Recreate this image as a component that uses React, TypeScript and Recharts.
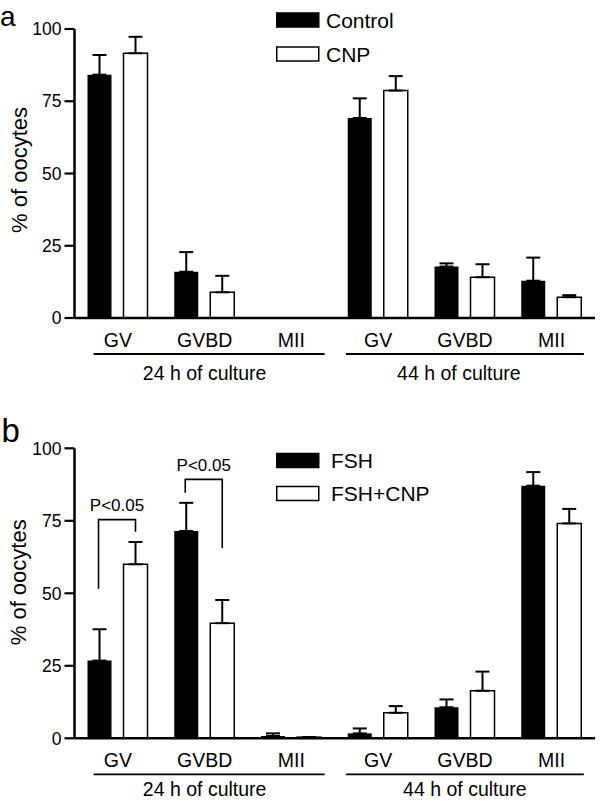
import React from 'react';
import { BarChart, Bar, XAxis, YAxis, ErrorBar, Legend, LabelList } from 'recharts';

// ---------- data ----------
const categoryIds = ['GV-24', 'GVBD-24', 'MII-24', 'GV-44', 'GVBD-44', 'MII-44'];
const stageLabels = ['GV', 'GVBD', 'MII', 'GV', 'GVBD', 'MII'];
const groupLabels = ['24 h of culture', '44 h of culture'];
const groupMiddleIndex = [1, 4];
const yTicks = [0, 25, 50, 75, 100];

// panel a
const seriesNamesA = ['Control', 'CNP'];
const controlMean = [84.2, 16.0, 0, 69.2, 17.8, 12.9];
const controlSem = [6.8, 6.8, 0, 6.8, 1.1, 8.0];
const cnpMean = [91.6, 8.9, 0, 78.7, 14.1, 7.2];
const cnpSem = [5.7, 5.7, 0, 5.0, 4.5, 0.7];

// panel b
const seriesNamesB = ['FSH', 'FSH+CNP'];
const fshMean = [26.8, 71.5, 0.8, 1.7, 10.7, 87.1];
const fshSem = [10.8, 9.7, 0.9, 1.7, 2.7, 4.7];
const fshCnpMean = [60.0, 39.7, 0.4, 8.8, 16.4, 74.1];
const fshCnpSem = [7.7, 8.0, 0, 2.3, 6.6, 5.0];

// significance brackets (panel b)
const sigText = ['P<0.05', 'P<0.05', null, null, null, null];
const sigTop = [75.4, 89.3, 0, 0, 0, 0];
const sigLeftEnd = [51.6, 84.7, 0, 0, 0, 0];
const sigRightEnd = [71.2, 65.5, 0, 0, 0, 0];

const dataA = categoryIds.map((id, i) => ({
  id,
  s1: controlMean[i],
  s1Err: [0, controlSem[i]],
  s2: cnpMean[i],
  s2Err: [0, cnpSem[i]],
}));
const dataB = categoryIds.map((id, i) => ({
  id,
  s1: fshMean[i],
  s1Err: [0, fshSem[i]],
  s2: fshCnpMean[i],
  s2Err: [0, fshCnpSem[i]],
}));

// ---------- style ----------
const FONT = '"Liberation Sans", Arial, Helvetica, sans-serif';
const BAR_SIZE = 24;
const BAR_GAP = 12;
const FILLS = ['#000000', '#ffffff'];
const groupLineSpan = [
  [-111, 120],
  [-119, 119],
];

function makeXTick(labelShift: number[], groupLabelDy: number) {
  return (props: any) => {
    const { x, y, payload } = props;
    const idx = payload && payload.index != null ? payload.index : props.index;
    const g = groupMiddleIndex.indexOf(idx);
    return (
      <g>
        <text x={x} y={y + 29} textAnchor="middle" fontSize={19.5} fill="#000" fontFamily={FONT}>
          {stageLabels[idx]}
        </text>
        {g >= 0 && (
          <g>
            <line
              x1={x + groupLineSpan[g][0]}
              x2={x + groupLineSpan[g][1]}
              y1={y + 36}
              y2={y + 36}
              stroke="#000"
              strokeWidth={1.8}
            />
            <text
              x={x + labelShift[g]}
              y={y + groupLabelDy}
              textAnchor="middle"
              fontSize={19.5}
              fill="#000"
              fontFamily={FONT}
            >
              {groupLabels[g]}
            </text>
          </g>
        )}
      </g>
    );
  };
}

function makeYTitle(shift: number) {
  return (props: any) => {
    const vb = props.viewBox || {};
    const cx = 26.5;
    const cy = vb.y + vb.height / 2 + shift;
    return (
      <text
        x={cx}
        y={cy}
        transform={`rotate(-90 ${cx} ${cy})`}
        textAnchor="middle"
        fontSize={22}
        fill="#000"
        fontFamily={FONT}
      >
        % of oocytes
      </text>
    );
  };
}

function makeLegend(names: string[], rows: number[], textX: number) {
  return () => (
    <svg width={330} height={120} style={{ display: 'block', overflow: 'visible' }}>
      {names.map((n, i) => (
        <g key={n}>
          <rect x={0.75} y={rows[i]} width={42} height={14} fill={FILLS[i]} stroke="#000" strokeWidth={1.5} />
          <text x={textX} y={rows[i] + 14.5} fontSize={21} fill="#000" fontFamily={FONT}>
            {n}
          </text>
        </g>
      ))}
    </svg>
  );
}

const renderBracket = (props: any) => {
  const idx = props.index;
  if (idx == null || sigText[idx] == null) return null;
  const vb = props.viewBox && props.viewBox.width != null ? props.viewBox : props;
  const { x, y, width, height } = vb;
  const value = fshMean[idx];
  if (!value || !height) return null;
  const base = y + height;
  const ppu = height / value;
  const Y = (v: number) => base - v * ppu;
  const cx1 = x + width / 2 - 1;
  const cx2 = x + width / 2 + width + BAR_GAP;
  const top = Y(sigTop[idx]);
  return (
    <g>
      <polyline
        points={`${cx1},${Y(sigLeftEnd[idx])} ${cx1},${top} ${cx2},${top} ${cx2},${Y(sigRightEnd[idx])}`}
        fill="none"
        stroke="#000"
        strokeWidth={1.6}
      />
      <text x={(cx1 + cx2) / 2} y={top - 8.5} textAnchor="middle" fontSize={17} fill="#000" fontFamily={FONT}>
        {sigText[idx]}
      </text>
    </g>
  );
};

function Panel(props: {
  data: any[];
  names: string[];
  height: number;
  top: number;
  xAxisHeight: number;
  legendRows: number[];
  legendTextX: number;
  titleShift: number;
  groupLabelShift: number[];
  groupLabelDy: number;
  brackets?: boolean;
}) {
  const {
    data,
    names,
    height,
    top,
    xAxisHeight,
    legendRows,
    legendTextX,
    titleShift,
    groupLabelShift,
    groupLabelDy,
    brackets,
  } = props;
  return (
    <BarChart
      width={600}
      height={height}
      data={data}
      margin={{ top, right: 5, bottom: 0, left: 0 }}
      barSize={BAR_SIZE}
      barGap={BAR_GAP}
    >
      <XAxis
        dataKey="id"
        interval={0}
        height={xAxisHeight}
        tickLine={false}
        tickSize={0}
        tickMargin={0}
        axisLine={{ stroke: '#000', strokeWidth: 2.5 }}
        tick={makeXTick(groupLabelShift, groupLabelDy)}
      />
      <YAxis
        type="number"
        domain={[0, 100]}
        ticks={yTicks}
        width={74.5}
        tickSize={10}
        tickMargin={3}
        axisLine={{ stroke: '#000', strokeWidth: 2.5 }}
        tickLine={{ stroke: '#000', strokeWidth: 2.2 }}
        tick={{ fontSize: 17.5, fill: '#000', fontFamily: FONT }}
        label={makeYTitle(titleShift)}
      />
      <Legend
        verticalAlign="middle"
        align="center"
        layout="horizontal"
        wrapperStyle={{ left: 276, top: 0, width: 330, height: 120 }}
        content={makeLegend(names, legendRows, legendTextX)}
      />
      <Bar dataKey="s1" name={names[0]} fill={FILLS[0]} isAnimationActive={false}>
        <ErrorBar dataKey="s1Err" direction="y" width={7} stroke="#000" strokeWidth={2} />
        {brackets && <LabelList dataKey="s1" content={renderBracket} />}
      </Bar>
      <Bar dataKey="s2" name={names[1]} fill={FILLS[1]} stroke="#000" strokeWidth={1.5} isAnimationActive={false}>
        <ErrorBar dataKey="s2Err" direction="y" width={7} stroke="#000" strokeWidth={2} />
      </Bar>
    </BarChart>
  );
}

export default function App() {
  return (
    <div
      style={{
        position: 'absolute',
        left: 0,
        top: 0,
        width: 600,
        height: 801,
        background: '#fff',
        fontFamily: FONT,
        overflow: 'hidden',
      }}
    >
      <div style={{ position: 'relative', width: 600, height: 400 }}>
        <Panel
          data={dataA}
          names={seriesNamesA}
          height={400}
          top={29}
          xAxisHeight={82}
          legendRows={[13, 47]}
          legendTextX={50}
          titleShift={-3.5}
          groupLabelShift={[0, -6]}
          groupLabelDy={61.5}
        />
      </div>
      <div style={{ position: 'relative', width: 600, height: 401 }}>
        <Panel
          data={dataB}
          names={seriesNamesB}
          height={401}
          top={48.3}
          xAxisHeight={62.7}
          legendRows={[53.5, 86.5]}
          legendTextX={55}
          titleShift={-11}
          groupLabelShift={[0, 0]}
          groupLabelDy={57.5}
          brackets
        />
      </div>
      <svg
        width={60}
        height={801}
        style={{ position: 'absolute', left: 0, top: 0, pointerEvents: 'none' }}
      >
        <text x={0} y={25.5} fontSize={28} fill="#000" fontFamily={FONT}>
          a
        </text>
        <text x={1.5} y={441.5} fontSize={33} fill="#000" fontFamily={FONT}>
          b
        </text>
      </svg>
    </div>
  );
}
